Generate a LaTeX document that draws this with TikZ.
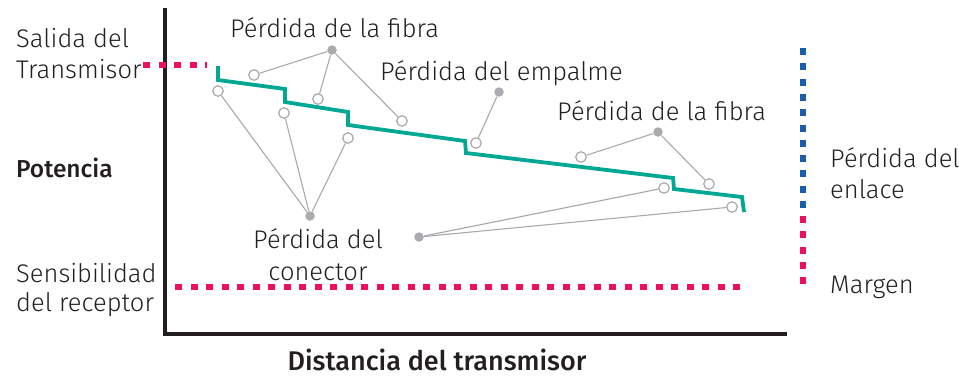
\documentclass[tikz,border=0pt]{standalone}
\usepackage{fontspec}
\setmainfont{Fira Sans Light}[BoldFont={Fira Sans Medium}]
\usetikzlibrary{backgrounds}
\definecolor{axisc}{HTML}{231F20}
\definecolor{pinkc}{HTML}{EC0F62}
\definecolor{bluec}{HTML}{1A5DAD}
\definecolor{greenc}{HTML}{00A893}
\definecolor{dotc}{HTML}{ABABAF}
\definecolor{linec}{HTML}{A9A9A9}
\definecolor{txtc}{HTML}{231F20}
\begin{document}
\begin{tikzpicture}[x=1pt,y=-1pt,
  lbl/.style={inner sep=0pt,anchor=base west,text=txtc,font=\fontsize{25.5}{30}\selectfont},
  lblb/.style={lbl,font=\bfseries\fontsize{24.5}{29}\selectfont},
  lblx/.style={lbl,font=\bfseries\fontsize{27}{32}\selectfont},
  axisline/.style={draw=axisc,line width=3.6pt},
  pinkdash/.style={draw=pinkc,line width=6.5pt,dash pattern=on 7pt off 8.5pt},
  bluedash/.style={draw=bluec,line width=6pt,dash pattern=on 7pt off 8.3pt},
  margdash/.style={draw=pinkc,line width=6pt,dash pattern=on 7pt off 8.3pt},
  steps/.style={draw=greenc,line width=3.8pt,line join=miter},
  conn/.style={draw=linec,line width=1.1pt},
  opencirc/.style={circle,draw=linec,fill=white,line width=1.2pt,minimum size=10.5pt,inner sep=0pt},
  fulldot/.style={circle,fill=dotc,minimum size=9.5pt,inner sep=0pt}]
\useasboundingbox (0,0) rectangle (977,376);
% axes
\coordinate (ytop) at (165,8);
\coordinate (orig) at (165,334);
\coordinate (xend) at (787,334);
\draw[axisline] (ytop) -- (orig) -- (xend);
% dashed levels
\coordinate (tx1) at (143,65);
\coordinate (tx2) at (207,65);
\draw[pinkdash] (tx1) -- (tx2);
\coordinate (rx1) at (175,287);
\coordinate (rx2) at (747,287);
\draw[pinkdash] (rx1) -- (rx2);
\coordinate (b1) at (803,48);
\coordinate (b2) at (803,216);
\coordinate (m2) at (803,292);
\draw[bluedash] (b1) -- (b2);
\draw[margdash] (b2) -- (m2);
% dots and circles
\node[fulldot] (df1) at (332,50) {};
\node[fulldot] (de) at (499,92) {};
\node[fulldot] (df2) at (658,132) {};
\node[fulldot] (dc) at (310,216) {};
\node[fulldot] (dl) at (419,237) {};
\node[opencirc] (c1) at (218,91) {};
\node[opencirc] (c2) at (254,75) {};
\node[opencirc] (c3) at (318,99) {};
\node[opencirc] (c4) at (284,113) {};
\node[opencirc] (c5) at (402,121) {};
\node[opencirc] (c6) at (348,138) {};
\node[opencirc] (c7) at (476,143) {};
\node[opencirc] (c8) at (581,157) {};
\node[opencirc] (c9) at (664,188) {};
\node[opencirc] (c10) at (709,184) {};
\node[opencirc] (c11) at (732,207) {};
\begin{pgfonlayer}{background}
\draw[conn] (df1) -- (c2);
\draw[conn] (df1) -- (c3);
\draw[conn] (df1) -- (c5);
\draw[conn] (de) -- (c7);
\draw[conn] (df2) -- (c8);
\draw[conn] (df2) -- (c10);
\draw[conn] (dc) -- (c1);
\draw[conn] (dc) -- (c4);
\draw[conn] (dc) -- (c6);
\draw[conn] (dl) -- (c9);
\draw[conn] (dl) -- (c11);
% staircase
\coordinate (s0) at (218,66);
\coordinate (s1) at (744,212);
\draw[steps] (s0) -- (218,80) -- (285,89) -- (285,102) -- (348,112) -- (348,125) -- (465,141) -- (466,153) -- (673,178) -- (674,189) -- (742,197) -- (s1);
\end{pgfonlayer}
% labels
\node[lbl] (t1) at (16,47) {Salida del};
\node[lbl] (t2) at (16,78) {Transmisor};
\node[lblb] (t3) at (16,177) {Potencia};
\node[lbl] (t4) at (16,282) {Sensibilidad};
\node[lbl] (t5) at (16,311) {del receptor};
\node[lbl] (t6) at (230,37) {Pérdida de la fibra};
\node[lbl] (t7) at (380,80) {Pérdida del empalme};
\node[lbl] (t8) at (557,120) {Pérdida de la fibra};
\node[lbl,anchor=base] (t9) at (318,248) {Pérdida del};
\node[lbl,anchor=base] (t10) at (318,280) {conector};
\node[lbl] (t11) at (830,167) {Pérdida del};
\node[lbl] (t12) at (830,198) {enlace};
\node[lbl] (t13) at (830,293) {Margen};
\node[lblx,anchor=base] (t14) at (437,370) {Distancia del transmisor};
\end{tikzpicture}
\end{document}
